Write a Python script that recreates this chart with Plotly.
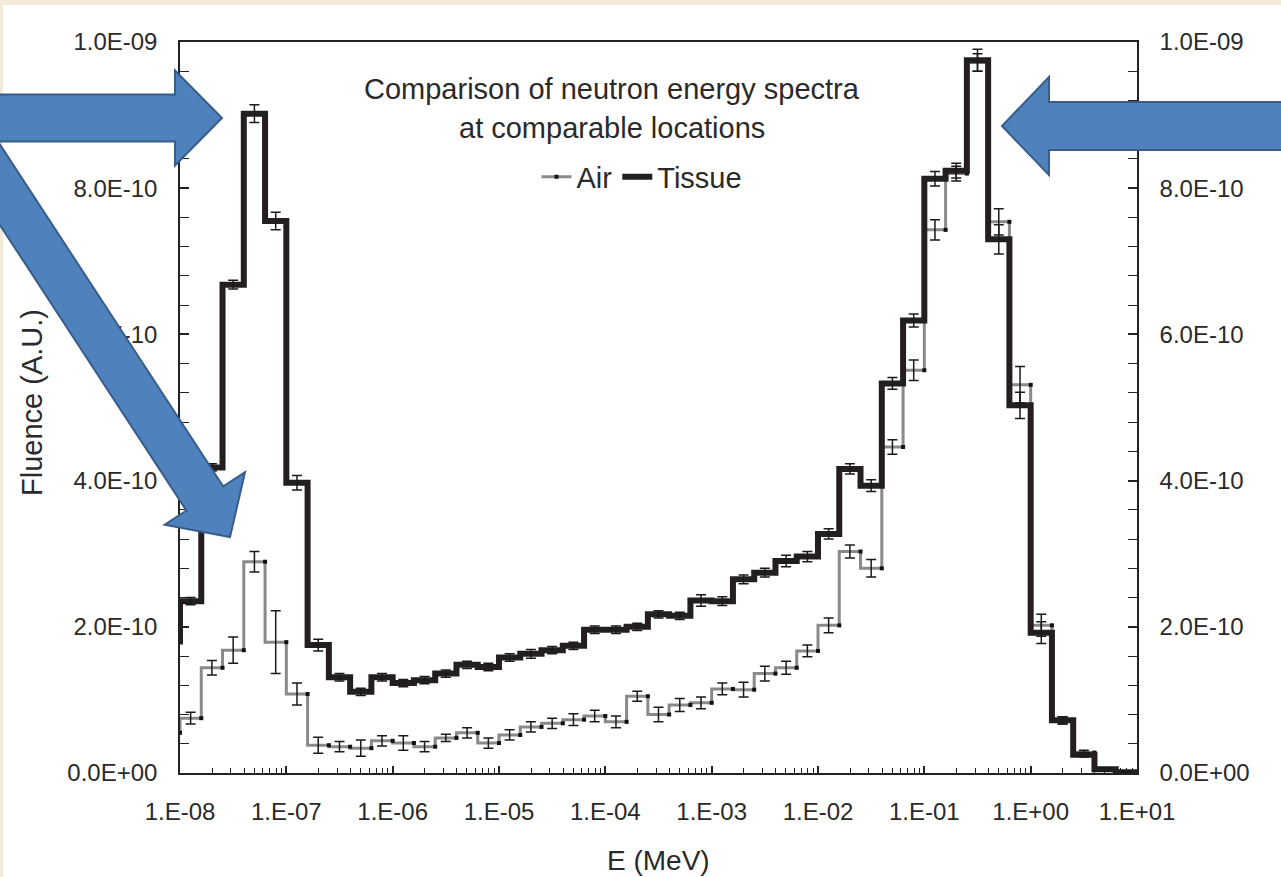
import plotly.graph_objects as go

# ---------------- data ----------------
# bin left edges (log10 of energy in MeV), 5 bins per decade
bin_left_log10 = [-8.2, -8.0, -7.8, -7.6, -7.4, -7.2, -7.0, -6.8, -6.6, -6.4,
                  -6.2, -6.0, -5.8, -5.6, -5.4, -5.2, -5.0, -4.8, -4.6, -4.4,
                  -4.2, -4.0, -3.8, -3.6, -3.4, -3.2, -3.0, -2.8, -2.6, -2.4,
                  -2.2, -2.0, -1.8, -1.6, -1.4, -1.2, -1.0, -0.8, -0.6, -0.4,
                  -0.2, 0.0, 0.2, 0.4, 0.6, 0.8]
bin_width_log10 = 0.2
UNIT = 1e-10  # values below are in units of 1e-10

tissue = [1.80, 2.35, 4.18, 6.68, 9.02, 7.55, 3.97, 1.75, 1.31, 1.11,
          1.31, 1.23, 1.27, 1.36, 1.48, 1.45, 1.58, 1.63, 1.68, 1.74,
          1.96, 1.96, 2.00, 2.17, 2.15, 2.36, 2.35, 2.65, 2.74, 2.90,
          2.96, 3.27, 4.16, 3.93, 5.33, 6.19, 8.13, 8.24, 9.75, 7.30,
          5.03, 1.92, 0.72, 0.25, 0.05, 0.01]
tissue_err = [0.06, 0.05, 0.05, 0.06, 0.12, 0.12, 0.10, 0.08, 0.05, 0.05,
              0.05, 0.05, 0.05, 0.05, 0.05, 0.05, 0.05, 0.06, 0.05, 0.05,
              0.05, 0.05, 0.05, 0.05, 0.05, 0.08, 0.06, 0.06, 0.06, 0.08,
              0.07, 0.07, 0.07, 0.08, 0.08, 0.09, 0.10, 0.10, 0.15, 0.20,
              0.18, 0.15, 0.05, 0.03, 0.02, 0.01]
air = [0.55, 0.75, 1.44, 1.68, 2.89, 1.79, 1.08, 0.38, 0.36, 0.34,
       0.44, 0.41, 0.36, 0.48, 0.55, 0.41, 0.52, 0.63, 0.68, 0.73,
       0.78, 0.70, 1.05, 0.80, 0.93, 0.96, 1.15, 1.14, 1.36, 1.44,
       1.67, 2.02, 3.03, 2.80, 4.46, 5.51, 7.43, 8.20, 9.72, 7.54,
       5.31, 2.02, 0.72, 0.28, 0.05, 0.01]
air_err = [0.06, 0.08, 0.10, 0.18, 0.14, 0.43, 0.15, 0.11, 0.07, 0.11,
           0.07, 0.10, 0.07, 0.05, 0.07, 0.07, 0.07, 0.07, 0.07, 0.08,
           0.08, 0.08, 0.07, 0.10, 0.09, 0.08, 0.08, 0.10, 0.10, 0.09,
           0.08, 0.10, 0.09, 0.12, 0.10, 0.14, 0.14, 0.10, 0.12, 0.18,
           0.25, 0.15, 0.05, 0.03, 0.02, 0.01]

x_tick_vals = [1e-8, 1e-7, 1e-6, 1e-5, 1e-4, 1e-3, 1e-2, 1e-1, 1e0, 1e1]
x_tick_text = ["1.E-08", "1.E-07", "1.E-06", "1.E-05", "1.E-04", "1.E-03",
               "1.E-02", "1.E-01", "1.E+00", "1.E+01"]
y_tick_vals = [0, 2e-10, 4e-10, 6e-10, 8e-10, 1e-9]
y_tick_text = ["0.0E+00", "2.0E-10", "4.0E-10", "6.0E-10", "8.0E-10", "1.0E-09"]

title_lines = ["Comparison of neutron energy spectra", "at comparable locations"]

# ---------------- derived ----------------
left_edges = [10 ** v for v in bin_left_log10]
right_edges = [10 ** (v + bin_width_log10) for v in bin_left_log10]
centers = [10 ** (v + bin_width_log10 / 2) for v in bin_left_log10]


def step_xy(vals):
    # 'vh' shape: points at bin right edges, plus the first left edge
    xs = [left_edges[0]] + right_edges
    ys = [vals[0] * UNIT] + [v * UNIT for v in vals]
    return xs, ys


FONT = "Arial, Liberation Sans, sans-serif"
TXT = "#2a2a2a"

fig = go.Figure()

ax, ay = step_xy(air)
fig.add_trace(go.Scatter(
    x=ax, y=ay, name="Air", mode="lines+markers", line_shape="vh",
    line=dict(color="#8a8a8a", width=3),
    marker=dict(symbol="square", size=4, color="#111111"),
    hoverinfo="skip"))

tx, ty = step_xy(tissue)
fig.add_trace(go.Scatter(
    x=tx, y=ty, name="Tissue", mode="lines", line_shape="vh",
    line=dict(color="#231f20", width=6),
    hoverinfo="skip"))

fig.add_trace(go.Scatter(
    x=centers, y=[v * UNIT for v in air], mode="markers", showlegend=False,
    marker=dict(size=1, opacity=0),
    error_y=dict(type="data", array=[e * UNIT for e in air_err],
                 color="#1a1a1a", thickness=1.5, width=5),
    hoverinfo="skip"))
fig.add_trace(go.Scatter(
    x=centers, y=[v * UNIT for v in tissue], mode="markers", showlegend=False,
    marker=dict(size=1, opacity=0),
    error_y=dict(type="data", array=[e * UNIT for e in tissue_err],
                 color="#1a1a1a", thickness=1.5, width=5),
    hoverinfo="skip"))
# anchor trace for right axis
fig.add_trace(go.Scatter(
    x=centers, y=[v * UNIT for v in tissue], yaxis="y2", mode="markers",
    showlegend=False, marker=dict(size=1, opacity=0), hoverinfo="skip"))

# ---------------- geometry helpers (pixel -> paper) ----------------
L, R, T, B = 180, 1137, 42, 773
W, H = R - L, B - T


def px(x):
    return (x - L) / W


def py(y):
    return (B - y) / H


def block_arrow(tail, tip, sh, hh, hl):
    dx, dy = tip[0] - tail[0], tip[1] - tail[1]
    n = (dx ** 2 + dy ** 2) ** 0.5
    ux, uy = dx / n, dy / n
    nx, ny = -uy, ux
    bx, by = tip[0] - ux * hl, tip[1] - uy * hl
    pts = [(tail[0] + nx * sh, tail[1] + ny * sh),
           (bx + nx * sh, by + ny * sh),
           (bx + nx * hh, by + ny * hh),
           tip,
           (bx - nx * hh, by - ny * hh),
           (bx - nx * sh, by - ny * sh),
           (tail[0] - nx * sh, tail[1] - ny * sh)]
    return "M " + " L ".join(f"{px(x):.5f},{py(y):.5f}" for x, y in pts) + " Z"


shapes = []
BEIGE = "#f3ead9"
shapes.append(dict(type="rect", xref="paper", yref="paper", layer="below",
                   x0=px(-10), x1=px(1300), y0=py(5), y1=py(-10),
                   fillcolor=BEIGE, line=dict(width=0)))
shapes.append(dict(type="rect", xref="paper", yref="paper", layer="below",
                   x0=px(-10), x1=px(3), y0=py(900), y1=py(-10),
                   fillcolor=BEIGE, line=dict(width=0)))

ARROW_FILL = "#4f81bd"
ARROW_LINE = "#385d8a"
for tail, tip, sh, hh, hl in [
        ((-40, 118), (222, 118), 23.5, 47.5, 47),
        ((1330, 126), (1002, 126), 24, 49, 47),
        ((236 - 0.555 * 520, 537 - 0.832 * 520), (230, 537), 22, 48, 46)]:
    shapes.append(dict(type="path", xref="paper", yref="paper", layer="above",
                       path=block_arrow(tail, tip, sh, hh, hl),
                       fillcolor=ARROW_FILL, line=dict(color=ARROW_LINE, width=2)))

annotations = [
    dict(text=title_lines[0], x=px(612), y=py(89), xref="paper", yref="paper",
         xanchor="center", yanchor="middle", showarrow=False,
         font=dict(family=FONT, size=29, color=TXT)),
    dict(text=title_lines[1], x=px(612), y=py(128), xref="paper", yref="paper",
         xanchor="center", yanchor="middle", showarrow=False,
         font=dict(family=FONT, size=29, color=TXT)),
    dict(text="Fluence (A.U.)", x=px(32), y=py(403), xref="paper", yref="paper",
         xanchor="center", yanchor="middle", showarrow=False, textangle=-90,
         font=dict(family=FONT, size=29, color=TXT)),
    dict(text="E (MeV)", x=px(658), y=py(860), xref="paper", yref="paper",
         xanchor="center", yanchor="middle", showarrow=False,
         font=dict(family=FONT, size=28, color=TXT)),
]

axis_common = dict(showgrid=False, zeroline=False, showline=True,
                   linecolor="#222222", linewidth=1.5,
                   tickfont=dict(family=FONT, size=24, color=TXT),
                   ticks="inside", tickcolor="#222222", tickwidth=1.5)

fig.update_layout(
    width=1281, height=877,
    margin=dict(l=L, r=1281 - R, t=T, b=877 - B),
    paper_bgcolor="white", plot_bgcolor="white",
    showlegend=True,
    legend=dict(orientation="h", x=px(642), y=py(177), xanchor="center",
                yanchor="middle", font=dict(family=FONT, size=29, color=TXT),
                bgcolor="rgba(0,0,0,0)", itemwidth=30, tracegroupgap=0),
    xaxis=dict(type="log", range=[-8, 1], tickmode="array",
               tickvals=x_tick_vals, ticktext=x_tick_text, ticklen=7,
               ticklabelstandoff=16, mirror=True,
               minor=dict(ticks="inside", ticklen=5, dtick="D1",
                          tickcolor="#222222", tickwidth=1.2, showgrid=False),
               **axis_common),
    yaxis=dict(range=[0, 1e-9], tickmode="array", tickvals=y_tick_vals,
               ticktext=y_tick_text, ticklen=9, ticklabelstandoff=16,
               minor=dict(ticks="inside", ticklen=9, tick0=0, dtick=0.4e-10,
                          tickcolor="#222222", tickwidth=1.2, showgrid=False),
               **axis_common),
    yaxis2=dict(range=[0, 1e-9], overlaying="y", side="right", anchor="x",
                tickmode="array", tickvals=y_tick_vals, ticktext=y_tick_text,
                ticklen=9, ticklabelstandoff=16,
                minor=dict(ticks="inside", ticklen=9, tick0=0, dtick=0.4e-10,
                           tickcolor="#222222", tickwidth=1.2, showgrid=False),
                **axis_common),
    shapes=shapes,
    annotations=annotations,
)

fig.write_html("out.html",
               config={"displayModeBar": False},
               post_script="document.body.style.margin='0';"
                           "document.body.style.overflow='hidden';")
